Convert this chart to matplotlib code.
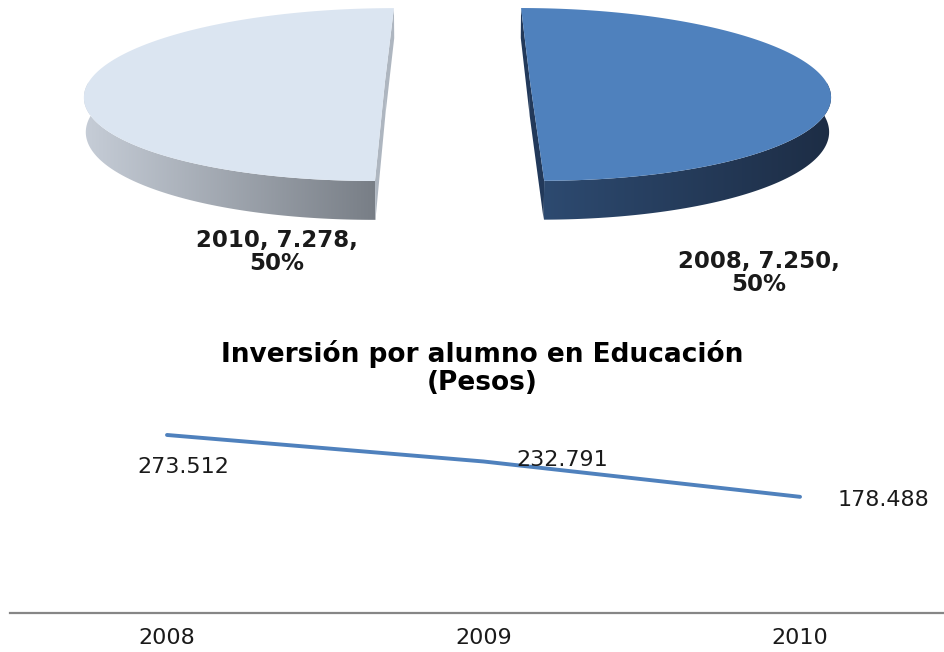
import numpy as np
import matplotlib
matplotlib.use("Agg")
import matplotlib.pyplot as plt
from matplotlib.patches import Polygon

# ---------------- data ----------------
pie_years = ["2008", "2010"]
pie_values = [7250, 7278]
line_years = ["2008", "2009", "2010"]
line_values = [273.512, 232.791, 178.488]
line_labels = ["273.512", "232.791", "178.488"]
title_text = "Inversión por alumno en Educación\n(Pesos)"

W, H = 945, 652
fig = plt.figure(figsize=(W / 100, H / 100), dpi=100)
fig.patch.set_facecolor("white")

# ---------------- perspective 3D exploded pie (pixel coords) ----------------
axp = fig.add_axes([0, 0, 1, 1])
axp.set_xlim(0, W)
axp.set_ylim(H, 0)
axp.axis("off")

PHI = np.deg2rad(16.6)   # elevation
DIST = 6.75              # camera distance (radius units)
SCALE = 2000.0
X0, Y0 = 457.5, 82.2
EXPLODE = 0.245
THICK = 0.12
cphi, sphi = np.cos(PHI), np.sin(PHI)


def project(X, Y, Z):
    X = np.asarray(X, float); Y = np.asarray(Y, float); Z = np.asarray(Z, float)
    depth = DIST + Y * cphi - Z * sphi
    sx = X / depth
    sy = (Y * sphi + Z * cphi) / depth
    return X0 + SCALE * sx, Y0 - SCALE * sy


total = float(sum(pie_values))
fr = [v / total for v in pie_values]
# 2008 drawn clockwise from 90 deg (back), 2010 continues
spans = {"2008": (90 - 360 * fr[0], 90), "2010": (90, 90 + 360 * fr[1])}
styles = {
    "2008": dict(top="#4F81BD", cut="#22395A", side=("#2D4A70", "#1D2D45")),
    "2010": dict(top="#DBE5F1", cut="#AEB6C0", side=("#C6CDD7", "#787E86")),
}


def gradient_fill(ax, poly, c0, c1, zorder):
    ax.add_patch(poly)
    xy = poly.get_xy()
    x0, x1 = xy[:, 0].min(), xy[:, 0].max()
    y0, y1 = xy[:, 1].min(), xy[:, 1].max()
    cmap = matplotlib.colors.LinearSegmentedColormap.from_list("g", [c0, c1])
    grad = np.linspace(0, 1, 256).reshape(1, -1)
    im = ax.imshow(grad, cmap=cmap, extent=[x0, x1, y1, y0], aspect="auto",
                   zorder=zorder, interpolation="bilinear")
    im.set_clip_path(poly)


for yr in pie_years:
    a0, a1 = spans[yr]
    st = styles[yr]
    mid = np.deg2rad((a0 + a1) / 2)
    ox, oy = EXPLODE * np.cos(mid), EXPLODE * np.sin(mid)
    th = np.deg2rad(np.linspace(a0, a1, 600))
    ax3 = ox + np.cos(th)
    ay3 = oy + np.sin(th)
    # outer side band (front part only)
    m = np.sin(th) <= 0.0
    fx, fy = ax3[m], ay3[m]
    tx, ty = project(fx, fy, np.zeros_like(fx))
    bx, by = project(fx[::-1], fy[::-1], np.full_like(fx, -THICK))
    side = Polygon(np.column_stack([np.r_[tx, bx], np.r_[ty, by]]), closed=True,
                   facecolor="none", edgecolor="none", zorder=1)
    gradient_fill(axp, side, st["side"][0], st["side"][1], 1)
    # cut faces (center -> edge, extruded)
    for k in (0, -1):
        Xs = [ox, ax3[k], ax3[k], ox]
        Ys = [oy, ay3[k], ay3[k], oy]
        Zs = [0, 0, -THICK, -THICK]
        px, py = project(Xs, Ys, Zs)
        axp.add_patch(Polygon(np.column_stack([px, py]), closed=True,
                              facecolor=st["cut"], edgecolor="none", zorder=2))
    # top face
    ux, uy = project(ax3, ay3, np.zeros_like(th))
    cx_, cy_ = project([ox], [oy], [0])
    axp.add_patch(Polygon(np.column_stack([np.r_[cx_, ux], np.r_[cy_, uy]]), closed=True,
                          facecolor=st["top"], edgecolor="none", zorder=3))

# pie labels
pie_label_pos = {"2008": (759, 273), "2010": (277, 252)}


def fmt_thousands(v):
    return f"{v:,}".replace(",", ".")


for yr, v, f in zip(pie_years, pie_values, fr):
    x, y = pie_label_pos[yr]
    axp.text(x, y, f"{yr}, {fmt_thousands(v)},\n{f*100:.0f}%", ha="center", va="center",
             fontsize=16.5, fontweight="bold", color="#1a1a1a", linespacing=1.0,
             family="DejaVu Sans")

# title
axp.text(482, 368, title_text, ha="center", va="center", fontsize=19,
         fontweight="bold", color="#000000", linespacing=1.12, family="DejaVu Sans")

# ---------------- line chart ----------------
axl = fig.add_axes([10 / W, 39 / H, (W - 10) / W, (613 - 415) / H])
axl.patch.set_alpha(0)
xs = np.arange(len(line_years))
axl.plot(xs, line_values, color="#4F81BD", lw=2.8, solid_capstyle="round")
axl.set_xlim(-0.496, 2.458)
axl.set_ylim(0, 304.2)
for s in ("left", "right", "top"):
    axl.spines[s].set_visible(False)
axl.spines["bottom"].set_color("#868686")
axl.spines["bottom"].set_linewidth(1.6)
axl.set_yticks([])
axl.set_xticks(xs)
axl.set_xticklabels(line_years, fontsize=16, color="#1a1a1a")
axl.tick_params(axis="x", length=0, pad=11)

offsets = [(12, -23), (57, 1), (60, -2)]
for x, v, lab, off in zip(xs, line_values, line_labels, offsets):
    axl.annotate(lab, (x, v), xytext=off, textcoords="offset points",
                 ha="center", va="center", fontsize=16, color="#1a1a1a")

fig.savefig("out.png", dpi=100)
